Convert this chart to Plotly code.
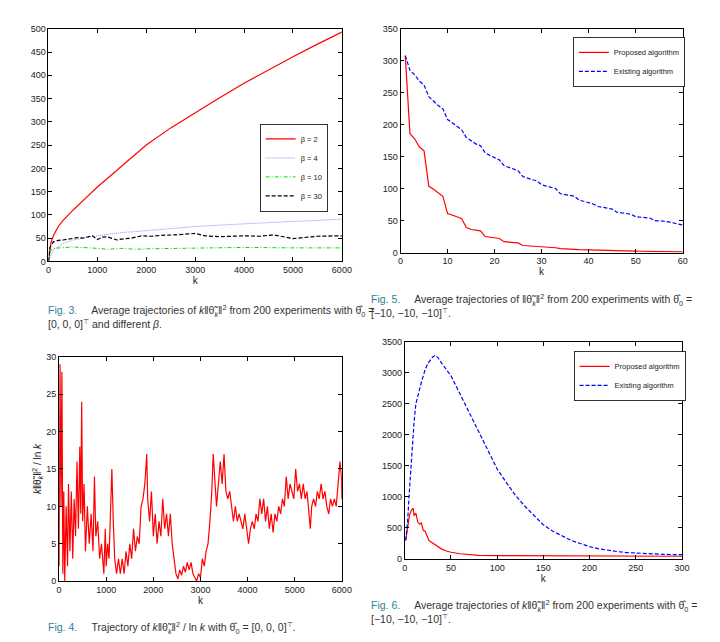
import plotly.graph_objects as go
import numpy  as np

RED_COLOR = '#FF0000'
BLUE_COLOR = '#0000FF'
CAPTION_COLOR = '#2E7F99'
FONT = 'Liberation Sans'

# fig.3 : average trajectories for different beta
beta_k = [0, 50, 100, 200, 300, 500, 750, 1000, 1500, 2000, 2500, 3000, 3500, 4000, 4500, 5000, 5500, 6000]
beta2  = [0, 40, 55, 75, 88, 110, 135, 160, 205, 250, 287, 320, 352, 383, 412, 440, 467, 493]
beta4_k = [0, 100, 300, 500, 1000, 1500, 2000, 2500, 3000, 3500, 4000, 4500, 5000, 5500, 6000]
beta4   = [0, 25, 38, 46, 55, 62, 66, 71, 75, 78, 81, 84, 86, 88, 91]
beta10_k = [0, 50, 100, 300, 500, 1000, 1200, 1500, 1800, 2000, 3000, 4000, 5000, 6000]
beta10   = [0, 25, 28, 30, 31, 28, 26, 28, 26, 27, 29, 30, 29, 29]
beta30_k = [0, 30, 100, 200, 300, 400, 500, 600, 700, 800, 900, 1000, 1100, 1200, 1300, 1400, 1500,
            1700, 1900, 2100, 2300, 2600, 3000, 3200, 3500, 4000, 4300, 4600, 5000, 5500, 6000]
beta30   = [0, 30, 42, 45, 46, 48, 50, 51, 50, 52, 55, 47, 52, 53, 49, 46, 48,
            50, 55, 54, 56, 57, 60, 55, 53, 55, 54, 57, 49, 54, 55]

# fig.4 : single trajectory
traj = [(0, 2), (20, 29), (40, 10), (60, 28), (80, 1), (100, 12), (120, 0), (150, 10), (180, 2), (200, 13),
        (230, 4), (260, 12), (290, 3), (320, 11), (350, 6), (380, 16), (410, 7), (440, 18), (460, 9), (480, 24),
        (500, 8), (530, 13), (560, 4), (600, 10), (640, 5), (680, 9), (720, 4), (750, 14), (780, 6), (820, 8),
        (860, 3), (900, 5), (950, 1), (980, 7), (1000, 2), (1030, 5), (1060, 3), (1100, 13), (1120, 15), (1150, 8),
        (1180, 3), (1220, 1), (1260, 3), (1300, 1), (1340, 3), (1380, 1), (1420, 4), (1460, 2), (1500, 5), (1540, 3),
        (1580, 7), (1620, 4), (1660, 6), (1700, 5), (1740, 10), (1780, 11), (1820, 13), (1860, 17), (1880, 11),
        (1920, 8), (1960, 12), (2000, 6), (2040, 9), (2080, 5), (2120, 8), (2160, 6), (2200, 11), (2240, 7),
        (2280, 9), (2320, 6), (2360, 9), (2400, 5), (2440, 3), (2480, 1), (2520, 0.3), (2560, 1.5), (2600, 0.8),
        (2640, 2), (2680, 1.2), (2720, 2.5), (2760, 1.5), (2800, 2.5), (2840, 1), (2880, 0.5), (2920, 0),
        (2960, 1), (3000, 0.5), (3040, 3), (3080, 2), (3120, 4), (3160, 5), (3200, 8), (3240, 12), (3270, 17),
        (3300, 14), (3340, 10), (3380, 13), (3420, 16), (3460, 13), (3500, 17), (3540, 12), (3580, 11), (3620, 12),
        (3660, 10), (3700, 8), (3740, 10), (3780, 8), (3820, 9), (3860, 8), (3900, 7), (3940, 9), (3980, 7),
        (4020, 5), (4060, 7), (4100, 8), (4140, 7), (4180, 9), (4220, 8), (4260, 11), (4300, 9), (4340, 11),
        (4380, 8), (4420, 10), (4460, 7), (4500, 9), (4540, 6.5), (4580, 9), (4620, 8), (4660, 10), (4700, 9),
        (4740, 11), (4780, 10), (4820, 14), (4860, 11), (4900, 13), (4940, 12), (4980, 11), (5020, 15), (5060, 12),
        (5100, 13), (5140, 11), (5180, 13), (5220, 11), (5260, 12), (5300, 9), (5330, 7), (5360, 10), (5400, 11),
        (5440, 10), (5480, 12), (5520, 11), (5560, 13), (5600, 11), (5640, 12), (5680, 10), (5720, 9), (5760, 11),
        (5800, 10), (5840, 11), (5880, 10), (5920, 13), (5960, 16), (5990, 14), (6000, 11)]
traj = np.array(traj)

# fig.5 : k = 1..60
k5 = np.arange(1, 61)
prop5 = [308, 186, 178, 165, 159, 104, 99, 93, 88, 61, 59, 56, 53, 39, 36, 35, 34, 25, 24, 23,
         22, 17, 16, 15.5, 15, 11, 10.5, 10, 10, 8.5, 8, 8, 7.5, 6, 6, 5.5, 5, 4.5, 4.2, 4,
         3.8, 3.5, 3.3, 3.1, 3, 2.8, 2.6, 2.4, 2.2, 2.1, 2, 1.9, 1.8, 1.7, 1.6, 1.5, 1.4, 1.3, 1.2, 1.1]
exist5 = [308, 285, 278, 268, 262, 244, 237, 230, 225, 208, 203, 198, 192, 180, 175, 170, 167, 156, 152, 148,
          145, 136, 133, 131, 128, 119, 116, 114, 112, 106, 104, 102, 100, 92, 91, 90, 88, 82, 80, 79,
          76, 72, 71, 70, 68, 63, 62, 62, 60, 56, 55, 55, 54, 50, 50, 49, 48, 46, 44, 43]

# fig.6 : k = 1..300
exist6_k = [1, 3, 5, 7, 10, 12, 15, 18, 20, 22, 25, 28, 30, 33, 36, 40, 45, 50, 55, 60, 65, 70, 75, 80, 85,
            90, 95, 100, 110, 120, 130, 140, 150, 160, 170, 180, 190, 200, 210, 220, 230, 240, 250, 260,
            270, 280, 290, 300]
exist6   = [300, 600, 1100, 1600, 2200, 2500, 2700, 2850, 2950, 3050, 3150, 3220, 3250, 3280, 3240, 3150,
            3050, 2950, 2800, 2650, 2500, 2350, 2200, 2050, 1900, 1750, 1600, 1450, 1230, 1020, 850, 700,
            550, 450, 370, 300, 250, 200, 165, 140, 120, 105, 95, 85, 80, 75, 72, 70]
prop6_k = [1, 3, 5, 7, 9, 10, 12, 14, 16, 18, 20, 22, 24, 26, 28, 30, 35, 40, 45, 50, 60, 70, 80, 100, 150, 200, 300]
prop6   = [300, 550, 700, 780, 820, 700, 740, 600, 560, 580, 460, 450, 380, 300, 280, 260, 200, 160, 130,
           110, 85, 70, 60, 55, 50, 48, 45]


def axis(domain, rng, dtick, anchor, title = None):

    return dict(
        domain    = domain,
        range     = rng,
        dtick     = dtick,
        anchor    = anchor,
        showline  = True,
        mirror    = 'ticks',
        linecolor = 'black',
        linewidth = 0.8,
        ticks     = 'inside',
        ticklen   = 4,
        tickcolor = 'black',
        showgrid  = False,
        zeroline  = False,
        tickfont  = dict(size = 9, color = '#222222'),
        title     = dict(text = title, font = dict(size = 10), standoff = 2) if title else None,
    )


def caption(x, y, text):

    return dict(
        x = x, y = y, xref = 'paper', yref = 'paper',
        xanchor = 'left', yanchor = 'top', align = 'left',
        showarrow = False, text = text,
        font = dict(size = 10.5, color = '#333333', family = FONT),
    )


def kplot():

    fig = go.Figure()

    # fig.3
    fig.add_trace(go.Scatter(x = beta_k, y = beta2, mode = 'lines', name = 'β = 2', legend = 'legend',
                             line = dict(color = RED_COLOR, width = 1.2), xaxis = 'x', yaxis = 'y'))
    fig.add_trace(go.Scatter(x = beta4_k, y = beta4, mode = 'lines', name = 'β = 4', legend = 'legend',
                             line = dict(color = '#8C8CFF', width = 1, dash = '1px,1px'), xaxis = 'x', yaxis = 'y'))
    fig.add_trace(go.Scatter(x = beta10_k, y = beta10, mode = 'lines', name = 'β = 10', legend = 'legend',
                             line = dict(color = '#00DD00', width = 1, dash = '4px,2px,1px,2px'), xaxis = 'x', yaxis = 'y'))
    fig.add_trace(go.Scatter(x = beta30_k, y = beta30, mode = 'lines', name = 'β = 30', legend = 'legend',
                             line = dict(color = 'black', width = 1.2, dash = '4px,2px'), xaxis = 'x', yaxis = 'y'))

    # fig.4
    fig.add_trace(go.Scatter(x = traj[:, 0], y = traj[:, 1], mode = 'lines', showlegend = False,
                             line = dict(color = RED_COLOR, width = 1.2), xaxis = 'x2', yaxis = 'y2'))

    # fig.5
    fig.add_trace(go.Scatter(x = k5, y = prop5, mode = 'lines', name = 'Proposed algorithm', legend = 'legend2',
                             line = dict(color = RED_COLOR, width = 1.2), xaxis = 'x3', yaxis = 'y3'))
    fig.add_trace(go.Scatter(x = k5, y = exist5, mode = 'lines', name = 'Existing algorithm', legend = 'legend2',
                             line = dict(color = BLUE_COLOR, width = 1.2, dash = '4px,2px'), xaxis = 'x3', yaxis = 'y3'))

    # fig.6
    fig.add_trace(go.Scatter(x = prop6_k, y = prop6, mode = 'lines', name = 'Proposed algorithm', legend = 'legend3',
                             line = dict(color = RED_COLOR, width = 1.2), xaxis = 'x4', yaxis = 'y4'))
    fig.add_trace(go.Scatter(x = exist6_k, y = exist6, mode = 'lines', name = 'Existing algorithm', legend = 'legend3',
                             line = dict(color = BLUE_COLOR, width = 1.2, dash = '4px,2px'), xaxis = 'x4', yaxis = 'y4'))

    legend_style = dict(
        xanchor = 'left', yanchor = 'top',
        bgcolor = 'white', bordercolor = 'black', borderwidth = 0.8,
        font = dict(size = 7.5, family = FONT),
        tracegroupgap = 0, itemwidth = 30,
    )

    # layout
    fig.update_layout(
        width  = 720,
        height = 642,
        plot_bgcolor  = 'white',
        paper_bgcolor = 'white',
        font = dict(family = FONT, color = '#222222'),
        xaxis  = axis([0.053, 0.468], [0, 6000], 1000, 'y', 'k'),
        yaxis  = axis([0.607, 0.975], [0, 500], 50, 'x'),
        xaxis2 = axis([0.068, 0.468], [0, 6000], 1000, 'y2', 'k'),
        yaxis2 = axis([0.101, 0.456], [0, 30], 5, 'x2', '<i>k</i>‖θ̃<sub><i>k</i></sub>‖<sup>2</sup> / ln <i>k</i>'),
        xaxis3 = axis([0.551, 0.950], [0, 60], 10, 'y3', 'k'),
        yaxis3 = axis([0.621, 0.975], [0, 350], 50, 'x3'),
        xaxis4 = axis([0.557, 0.949], [0, 300], 50, 'y4', 'k'),
        yaxis4 = axis([0.136, 0.480], [0, 3500], 500, 'x4'),
        legend  = dict(legend_style, x = 0.352, y = 0.825),
        legend2 = dict(legend_style, x = 0.795, y = 0.962),
        legend3 = dict(legend_style, x = 0.796, y = 0.465),
        margin = dict(t = 0, b = 0, r = 0, l = 0),
        annotations = [
            caption(0.05, 0.545, '<span style="color:%s">Fig. 3.</span>     Average trajectories of '
                    '<i>k</i>‖θ̃<sub><i>k</i></sub>‖<sup>2</sup> from 200 experiments with θ̂<sub>0</sub> =<br>'
                    '[0, 0, 0]<sup>⊤</sup> and different <i>β</i>.' % CAPTION_COLOR),
            caption(0.05, 0.042, '<span style="color:%s">Fig. 4.</span>     Trajectory of '
                    '<i>k</i>‖θ̃<sub><i>k</i></sub>‖<sup>2</sup> / ln <i>k</i> with θ̂<sub>0</sub> = [0, 0, 0]<sup>⊤</sup>.'
                    % CAPTION_COLOR),
            caption(0.507, 0.562, '<span style="color:%s">Fig. 5.</span>     Average trajectories of '
                    '‖θ̃<sub><i>k</i></sub>‖<sup>2</sup> from 200 experiments with θ̂<sub>0</sub> =<br>'
                    '[−10, −10, −10]<sup>⊤</sup>.' % CAPTION_COLOR),
            caption(0.507, 0.078, '<span style="color:%s">Fig. 6.</span>     Average trajectories of '
                    '<i>k</i>‖θ̃<sub><i>k</i></sub>‖<sup>2</sup> from 200 experiments with θ̂<sub>0</sub> =<br>'
                    '[−10, −10, −10]<sup>⊤</sup>.' % CAPTION_COLOR),
        ],
    )

    fig.write_html('out.html')


kplot()
